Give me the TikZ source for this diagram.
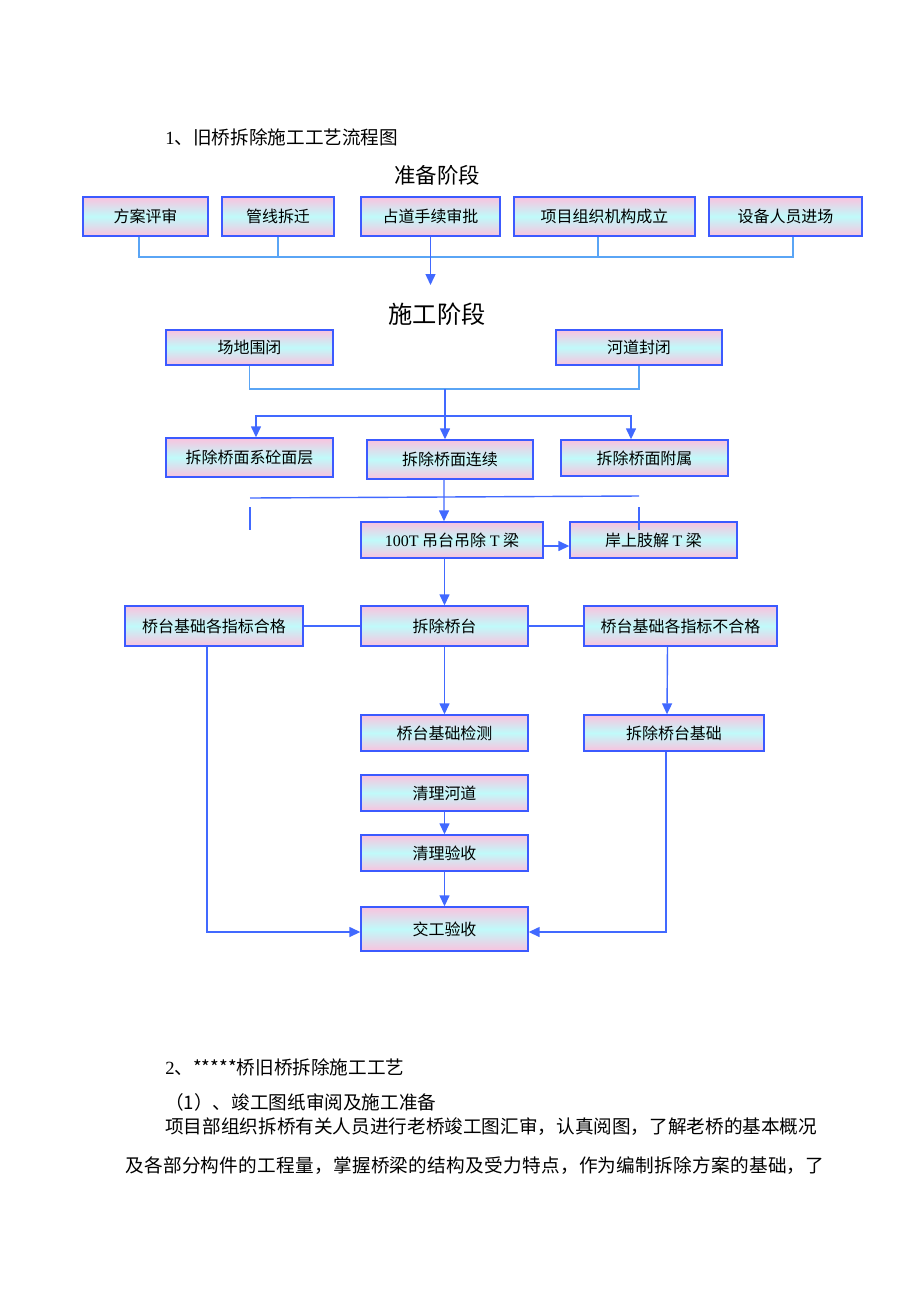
\documentclass[tikz,border=0pt]{standalone}
\usepackage{fontspec}
\setmainfont{Noto Sans CJK SC}
\newfontfamily\latin{Liberation Serif}
\newfontfamily\cjkwide[LetterSpace=1.5]{Noto Sans CJK SC}
\usepackage{tikz}
\usepackage{xcolor}
\usetikzlibrary{arrows.meta}

\definecolor{edgeblue}{RGB}{60,90,255}
\definecolor{linkblue}{RGB}{65,105,255}
\definecolor{lightlink}{RGB}{90,165,245}
\definecolor{boxpink}{RGB}{250,194,222}
\definecolor{boxcyan}{RGB}{192,250,250}

\begin{document}
\begin{tikzpicture}[x=0.02cm, y=-0.02cm,
    stage/.style={draw=edgeblue, line width=0.8pt, top color=boxpink, bottom color=boxpink, middle color=boxcyan, inner sep=0pt, minimum height=0.78cm, font=\fontsize{9.1}{11}\selectfont},
    arrow/.style={draw=linkblue, line width=0.8pt, -{Triangle[length=0.22cm, width=0.2cm]}},
    link/.style={draw=lightlink, line width=0.8pt},
    plain/.style={draw=linkblue, line width=0.8pt},
    body/.style={anchor=west, inner sep=0pt, font=\fontsize{10.6}{12}\selectfont}]
    \useasboundingbox (0,0) rectangle (920,1302);

    \node[body] (title) at (165,137) {{\latin 1}、旧桥拆除施工工艺流程图};
    \node[font=\fontsize{12.2}{14}\selectfont] (prep) at (437,175) {准备阶段};
    \node[font=\fontsize{13.8}{16}\selectfont] (work) at (437,314) {施工阶段};

    % preparation
    \node[stage, minimum width=2.5cm] (fa) at (145.5,216.5) {方案评审};
    \node[stage, minimum width=2.24cm] (gx) at (278,216.5) {管线拆迁};
    \node[stage, minimum width=2.78cm] (zd) at (430.5,216.5) {占道手续审批};
    \node[stage, minimum width=3.62cm] (xm) at (604.5,216.5) {项目组织机构成立};
    \node[stage, minimum width=3.06cm] (sb) at (785.5,216.5) {设备人员进场};
    \coordinate (j1) at (430.5,257);
    \coordinate (j1end) at (430.5,285);
    \draw[link] ([xshift=-0.13cm]fa.south) |- (j1);
    \draw[link] (gx.south) |- (j1);
    \draw[link] ([xshift=-0.13cm]xm.south) |- (j1);
    \draw[link] ([xshift=0.15cm]sb.south) |- (j1);
    \draw[arrow] (zd.south) -- (j1end);

    % construction
    \node[stage, minimum width=3.34cm, minimum height=0.7cm] (cd) at (249.5,347.5) {场地围闭};
    \node[stage, minimum width=3.32cm, minimum height=0.7cm] (hd) at (639,347.5) {河道封闭};
    \node[stage, minimum width=3.34cm] (mc) at (249.5,457.5) {拆除桥面系砼面层};
    \node[stage, minimum width=3.32cm] (lx) at (450,459.5) {拆除桥面连续};
    \node[stage, minimum width=3.34cm, minimum height=0.72cm] (fs) at (644.5,458) {拆除桥面附属};
    \coordinate (j2) at (445,389);
    \coordinate (j3) at (445,416);
    \draw[link] (cd.south) |- (j2);
    \draw[link] (hd.south) |- (j2);
    \draw[arrow] (j2) -- (j2 |- lx.north);
    \draw[arrow] (j3) -| ([xshift=0.13cm]mc.north);
    \draw[arrow] (j3) -| ([xshift=-0.27cm]fs.north);

    \node[stage, minimum width=3.64cm, minimum height=0.72cm] (dc) at (452,540) {{\latin 100T} 吊台吊除 {\latin T} 梁};
    \node[stage, minimum width=3.34cm, minimum height=0.72cm] (as) at (653.5,540) {岸上肢解 {\latin T} 梁};
    \coordinate (sl) at (250,498);
    \coordinate (sr) at (639,496);
    \coordinate (sla) at (250,507);
    \coordinate (slb) at (250,530);
    \coordinate (sra) at (639,507);
    \coordinate (srb) at (639,530);
    \draw[plain] (sl) -- (sr);
    \draw[plain] (sla) -- (slb);
    \draw[plain] (sra) -- (srb);
    \draw[arrow] ([xshift=-0.12cm]lx.south) -- ([xshift=-0.16cm]dc.north);
    \draw[arrow] ([yshift=-0.12cm]dc.east) -- ([yshift=-0.12cm]as.west);

    \node[stage, minimum width=3.56cm, minimum height=0.8cm] (hg) at (214,626) {桥台基础各指标合格};
    \node[stage, minimum width=3.34cm, minimum height=0.8cm] (qt) at (444.5,626) {拆除桥台};
    \node[stage, minimum width=3.86cm, minimum height=0.8cm] (bh) at (680.5,626) {桥台基础各指标不合格};
    \draw[plain] (hg) -- (qt);
    \draw[plain] (qt) -- (bh);
    \draw[arrow] (qt |- dc.south) -- (qt.north);

    \node[stage, minimum width=3.34cm, minimum height=0.72cm] (jc) at (444.5,733) {桥台基础检测};
    \node[stage, minimum width=3.6cm, minimum height=0.72cm] (cj) at (674,733) {拆除桥台基础};
    \draw[arrow] (qt) -- (jc);
    \draw[arrow] ([xshift=-0.26cm]bh.south) -- ([xshift=-0.14cm]cj.north);

    \node[stage, minimum width=3.34cm, minimum height=0.72cm] (qh) at (444.5,793) {清理河道};
    \node[stage, minimum width=3.34cm, minimum height=0.72cm] (ys) at (444.5,853) {清理验收};
    \node[stage, minimum width=3.34cm, minimum height=0.88cm] (jg) at (444.5,929) {交工验收};
    \draw[arrow] (qh) -- (ys);
    \draw[arrow] (ys) -- (jg);
    \draw[arrow] ([xshift=-0.14cm]hg.south) |- ([yshift=-0.06cm]jg.west);
    \draw[arrow] ([xshift=-0.16cm]cj.south) |- ([yshift=-0.06cm]jg.east);

    % text below
    \node[body] (sec) at (165,1067) {{\latin 2}、*****桥旧桥拆除施工工艺};
    \node[body] (sub) at (165,1102) {（1）、竣工图纸审阅及施工准备};
    \node[body] (para) at (165,1127) {项目部组织拆桥有关人员进行老桥竣工图汇审，认真阅图，了解老桥的基本概况};
    \node[body, font=\fontsize{10.6}{12}\cjkwide] (para2) at (125,1166) {及各部分构件的工程量，掌握桥梁的结构及受力特点，作为编制拆除方案的基础，了};
\end{tikzpicture}
\end{document}
